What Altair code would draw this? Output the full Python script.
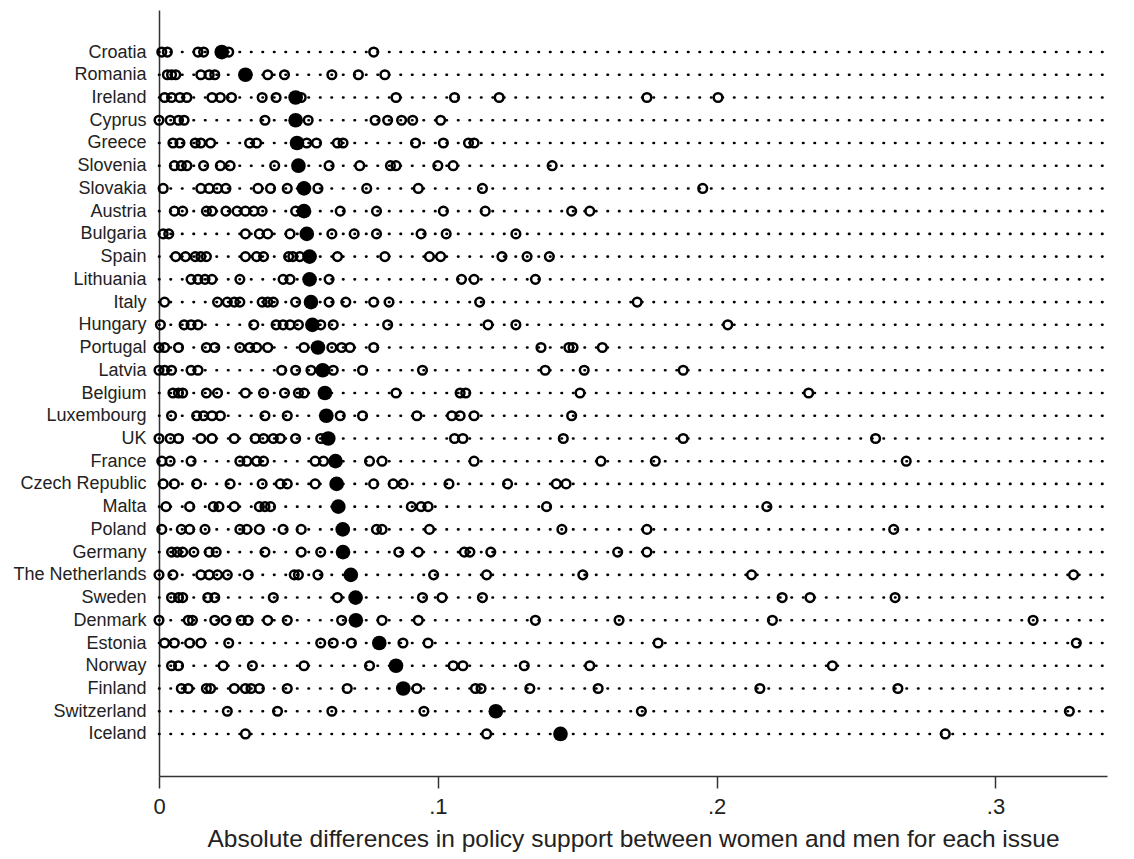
import altair as alt
import pandas as pd

countries = ["Croatia", "Romania", "Ireland", "Cyprus", "Greece", "Slovenia", "Slovakia",
             "Austria", "Bulgaria", "Spain", "Lithuania", "Italy", "Hungary", "Portugal",
             "Latvia", "Belgium", "Luxembourg", "UK", "France", "Czech Republic", "Malta",
             "Poland", "Germany", "The Netherlands", "Sweden", "Denmark", "Estonia",
             "Norway", "Finland", "Switzerland", "Iceland"]

means = [0.0225, 0.031, 0.049, 0.049, 0.0495, 0.050, 0.052, 0.052, 0.053, 0.054, 0.054,
         0.0545, 0.055, 0.057, 0.0587, 0.0595, 0.060, 0.0607, 0.0633, 0.0637, 0.0643,
         0.0659, 0.066, 0.0688, 0.0705, 0.0706, 0.079, 0.085, 0.0876, 0.1208, 0.144]

croatia = [0.001, 0.003, 0.014, 0.016, 0.025, 0.077]
romania = [0.003, 0.0045, 0.006, 0.015, 0.018, 0.020, 0.039, 0.045, 0.062, 0.0715, 0.081]
ireland = [0.002, 0.0045, 0.0075, 0.010, 0.019, 0.022, 0.026, 0.037, 0.042, 0.051, 0.085,
           0.106, 0.122, 0.175, 0.2005]
cyprus = [0.0, 0.004, 0.007, 0.009, 0.038, 0.0535, 0.0775, 0.082, 0.087, 0.091, 0.101]
greece = [0.005, 0.0075, 0.013, 0.015, 0.0185, 0.0325, 0.035, 0.053, 0.0565, 0.064, 0.066,
          0.092, 0.102, 0.111, 0.113]
slovenia = [0.0055, 0.008, 0.010, 0.016, 0.022, 0.0255, 0.0415, 0.061, 0.072, 0.083, 0.085,
            0.100, 0.1055, 0.141]
slovakia = [0.0015, 0.015, 0.018, 0.021, 0.024, 0.0355, 0.040, 0.046, 0.057, 0.0745, 0.093,
            0.116, 0.195]
austria = [0.0055, 0.0085, 0.017, 0.019, 0.024, 0.028, 0.031, 0.034, 0.037, 0.049, 0.065,
           0.078, 0.102, 0.117, 0.148, 0.1545]
bulgaria = [0.0015, 0.0035, 0.031, 0.036, 0.039, 0.047, 0.062, 0.070, 0.078, 0.094, 0.103, 0.128]
spain = [0.006, 0.0095, 0.013, 0.015, 0.017, 0.031, 0.035, 0.0375, 0.0465, 0.048, 0.0505,
         0.064, 0.081, 0.097, 0.101, 0.123, 0.132, 0.140]
lithuania = [0.0115, 0.014, 0.0165, 0.019, 0.029, 0.0445, 0.047, 0.061, 0.1085, 0.113, 0.135]
italy = [0.002, 0.021, 0.0245, 0.027, 0.029, 0.037, 0.039, 0.041, 0.049, 0.061, 0.067, 0.077,
         0.0825, 0.115, 0.1715]
hungary = [0.0005, 0.009, 0.0115, 0.014, 0.034, 0.042, 0.0445, 0.047, 0.050, 0.058, 0.0625,
           0.082, 0.118, 0.128, 0.204]
portugal = [0.0, 0.002, 0.007, 0.017, 0.020, 0.029, 0.0325, 0.035, 0.039, 0.052, 0.062, 0.0655,
            0.0685, 0.077, 0.137, 0.147, 0.1485, 0.159]
latvia = [0.0, 0.002, 0.0045, 0.0115, 0.014, 0.044, 0.049, 0.0545, 0.0625, 0.073, 0.0945,
          0.1385, 0.1525, 0.188]
belgium = [0.005, 0.007, 0.0085, 0.017, 0.021, 0.031, 0.0375, 0.045, 0.050, 0.052, 0.085,
           0.108, 0.110, 0.151, 0.233]
luxembourg = [0.0045, 0.0135, 0.016, 0.019, 0.022, 0.038, 0.046, 0.065, 0.073, 0.0925, 0.105,
              0.108, 0.113, 0.148]
uk = [0.0, 0.004, 0.007, 0.015, 0.019, 0.027, 0.0345, 0.0375, 0.041, 0.0435, 0.049, 0.058,
      0.106, 0.109, 0.145, 0.188, 0.257]
france = [0.001, 0.004, 0.0115, 0.029, 0.0315, 0.035, 0.0375, 0.056, 0.059, 0.0755, 0.080,
          0.113, 0.1585, 0.178, 0.268]
czech = [0.0015, 0.0055, 0.0135, 0.0255, 0.037, 0.0435, 0.046, 0.056, 0.077, 0.084, 0.0875,
         0.104, 0.125, 0.1425, 0.146]
malta = [0.0025, 0.011, 0.0195, 0.0215, 0.027, 0.036, 0.038, 0.040, 0.0905, 0.094, 0.0965,
         0.139, 0.218]
poland = [0.001, 0.008, 0.011, 0.0165, 0.029, 0.0315, 0.036, 0.0445, 0.051, 0.078, 0.080,
          0.097, 0.1445, 0.175, 0.2635]
germany = [0.0045, 0.0065, 0.0085, 0.0125, 0.018, 0.0205, 0.038, 0.051, 0.058, 0.086, 0.093,
           0.1095, 0.1115, 0.119, 0.1645, 0.175]
netherlands = [0.0, 0.005, 0.015, 0.018, 0.021, 0.0245, 0.032, 0.0485, 0.050, 0.057, 0.0985,
               0.1175, 0.152, 0.2125, 0.328]
sweden = [0.0045, 0.007, 0.0085, 0.0175, 0.020, 0.041, 0.064, 0.0945, 0.1015, 0.116, 0.2235,
          0.2335, 0.264]
denmark = [0.0, 0.0105, 0.012, 0.020, 0.024, 0.0295, 0.032, 0.039, 0.046, 0.0655, 0.080, 0.093,
           0.135, 0.165, 0.220, 0.3135]
estonia = [0.002, 0.0055, 0.011, 0.015, 0.025, 0.058, 0.0625, 0.069, 0.0875, 0.0965, 0.179, 0.329]
norway = [0.0045, 0.007, 0.023, 0.0335, 0.052, 0.0755, 0.1055, 0.109, 0.131, 0.1545, 0.2415]
finland = [0.008, 0.0105, 0.017, 0.0185, 0.027, 0.031, 0.033, 0.036, 0.046, 0.0675, 0.0925,
           0.1135, 0.1155, 0.133, 0.1575, 0.2155, 0.265]
switzerland = [0.0245, 0.0425, 0.062, 0.095, 0.173, 0.3265]
iceland = [0.031, 0.1175, 0.282]

issue_lists = [croatia, romania, ireland, cyprus, greece, slovenia, slovakia, austria, bulgaria,
               spain, lithuania, italy, hungary, portugal, latvia, belgium, luxembourg, uk,
               france, czech, malta, poland, germany, netherlands, sweden, denmark, estonia,
               norway, finland, switzerland, iceland]

x_max = 0.34
tick_values = [0, 0.1, 0.2, 0.3]
x_title = "Absolute differences in policy support between women and men for each issue"

n = len(countries)
# row position: top row (Croatia) gets the highest index
row_pos = {c: n - 1 - i for i, c in enumerate(countries)}

issues_df = pd.DataFrame(
    [{"country": c, "row": row_pos[c], "value": v}
     for c, vals in zip(countries, issue_lists) for v in vals]
)
means_df = pd.DataFrame({"country": countries, "row": [row_pos[c] for c in countries],
                         "value": means})
rules_df = pd.DataFrame({"country": countries, "row": [row_pos[c] for c in countries],
                         "value": [0.0] * n, "end": [x_max] * n})

names_by_row = [c for c in reversed(countries)]
label_js = "[" + ",".join("'" + c + "'" for c in names_by_row) + "][datum.value]"

FONT = "Liberation Sans"
PAD_ROWS = 1.85

x_enc = alt.X(
    "value:Q",
    scale=alt.Scale(domain=[0, x_max], nice=False, zero=True),
    axis=alt.Axis(
        values=tick_values,
        labelExpr="datum.value == 0 ? '0' : replace(format(datum.value, '.1f'), '0.', '.')",
        labelFlush=False,
        tickSize=12, tickWidth=1.5, tickColor="#333333",
        domainColor="#333333", domainWidth=1.5,
        labelFontSize=22, labelFont=FONT, labelColor="#222222", labelPadding=8,
        title=x_title, titleFontSize=24.5, titleFont=FONT, titleFontWeight="normal",
        titleColor="#222222", titlePadding=10, grid=False,
    ),
)
y_enc = alt.Y(
    "row:Q",
    scale=alt.Scale(domain=[-PAD_ROWS, n - 1 + PAD_ROWS], nice=False, zero=False),
    axis=alt.Axis(
        values=list(range(n)), labelExpr=label_js,
        title=None, ticks=False, labelPadding=13, labelFontSize=18, labelFont=FONT,
        labelColor="#222222", domainColor="#333333", domainWidth=1.5, grid=False,
        labelOverlap=False, labelFlush=False,
    ),
)

rules = alt.Chart(rules_df).mark_rule(
    color="black", strokeWidth=2.6, strokeDash=[0.5, 11.0], strokeCap="round"
).encode(x=x_enc, x2="end:Q", y=y_enc)

hollow = alt.Chart(issues_df).mark_point(
    shape="circle", filled=False, color="black", size=75, strokeWidth=2.5, opacity=1
).encode(x=x_enc, y=y_enc)

filled = alt.Chart(means_df).mark_point(
    shape="circle", filled=True, color="black", size=215, opacity=1
).encode(x=x_enc, y=y_enc)

chart = alt.layer(rules, hollow, filled).properties(
    width=948, height=766,
    autosize=alt.AutoSizeParams(type="none"),
    padding={"left": 151, "top": 2, "right": 19, "bottom": 82},
).configure(
    background="white",
    view=alt.ViewConfig(stroke=None, strokeWidth=0),
)

chart.save("out.html", embed_options={"renderer": "svg", "actions": False})
